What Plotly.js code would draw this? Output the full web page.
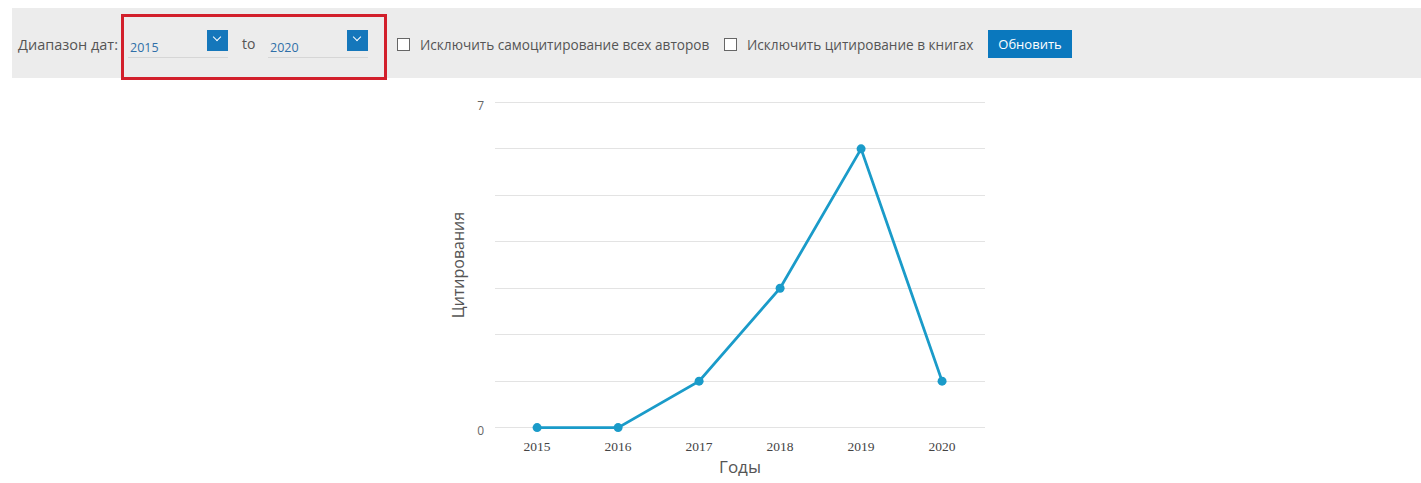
<!DOCTYPE html>
<html><head><meta charset="utf-8">
<script src="https://cdn.plot.ly/plotly-3.0.1.min.js"></script>
<style>
html,body{margin:0;padding:0;background:#fff;width:1421px;height:483px;overflow:hidden;font-family:"Open Sans",sans-serif;}
#chart{position:absolute;left:0;top:0;width:1421px;height:483px;}
#bar{position:absolute;left:12px;top:8px;width:1409px;height:70px;background:#ececec;z-index:2;}
.t{position:absolute;font-size:13.6px;color:#555;white-space:nowrap;line-height:16px;}
.sel{position:absolute;top:22px;width:100px;height:27px;border-bottom:1px solid #d6d6d6;}
.sel .v{position:absolute;left:2px;top:9px;font-size:12.5px;color:#2f6fa8;line-height:17px;}
.sel .b{position:absolute;right:0;top:0;width:21px;height:21px;background:#1577bb;}
.sel .b:after{content:"";position:absolute;left:7px;top:4px;width:5px;height:5px;border-right:1.5px solid #fff;border-bottom:1.5px solid #fff;transform:rotate(45deg);}
.cb{position:absolute;top:30px;width:11px;height:11px;border:1px solid #666;background:#fff;}
#red{position:absolute;left:109px;top:6px;width:260px;height:60px;border:3px solid #d21f2b;}
#btn{position:absolute;left:976px;top:22px;width:84px;height:28px;background:#0a78be;color:#fff;font-size:13px;line-height:28px;text-align:center;}
</style></head><body>
<div id="chart"></div>
<div id="bar">
  <div class="t" style="left:6px;top:29px;font-size:14.5px;">Диапазон дат:</div>
  <div id="red"></div>
  <div class="sel" style="left:116px;"><div class="v">2015</div><div class="b"></div></div>
  <div class="t" style="left:230px;top:28px;font-size:14px;">to</div>
  <div class="sel" style="left:256px;"><div class="v">2020</div><div class="b"></div></div>
  <div class="cb" style="left:385px;"></div>
  <div class="t" style="left:408px;top:29px;">Исключить самоцитирование всех авторов</div>
  <div class="cb" style="left:712px;"></div>
  <div class="t" style="left:735px;top:29px;">Исключить цитирование в книгах</div>
  <div id="btn">Обновить</div>
</div>
<script>
const years = ['2015','2016','2017','2018','2019','2020'];
const citations = [0, 0, 1, 3, 6, 1];
const yTickVals = [0,1,2,3,4,5,6,7];
const yTickText = ['0','','','','','','','7'];

Plotly.newPlot('chart', [{
  x: years, y: citations, type: 'scatter', mode: 'lines+markers',
  line: {color: '#1a9bc9', width: 2.8},
  marker: {color: '#1a9bc9', size: 9},
  cliponaxis: false,
  hoverinfo: 'none'
}], {
  width: 1421, height: 483,
  margin: {l: 495, r: 436, t: 101, b: 54},
  paper_bgcolor: 'rgba(0,0,0,0)', plot_bgcolor: 'rgba(0,0,0,0)',
  showlegend: false,
  xaxis: {
    type: 'category', range: [-0.52, 5.53], showgrid: false, zeroline: false, showline: false,
    ticks: '', ticklabelstandoff: 7, tickfont: {family: 'Liberation Serif, serif', size: 13.5, color: '#444'},
    title: {text: 'Годы', font: {family: 'Open Sans, sans-serif', size: 17, color: '#555'}, standoff: 8}
  },
  yaxis: {
    range: [-0.03, 7.03], tickvals: yTickVals, ticktext: yTickText, showgrid: true, gridcolor: '#e3e3e3', gridwidth: 1,
    zeroline: false, showline: false, ticks: '', ticklabelstandoff: 10, ticklabelshift: 3,
    tickfont: {family: 'Open Sans, sans-serif', size: 12, color: '#666'},
    title: {text: 'Цитирования', font: {family: 'Open Sans, sans-serif', size: 16, color: '#555'}, standoff: 8}
  }
}, {staticPlot: true});
</script>
</body></html>
